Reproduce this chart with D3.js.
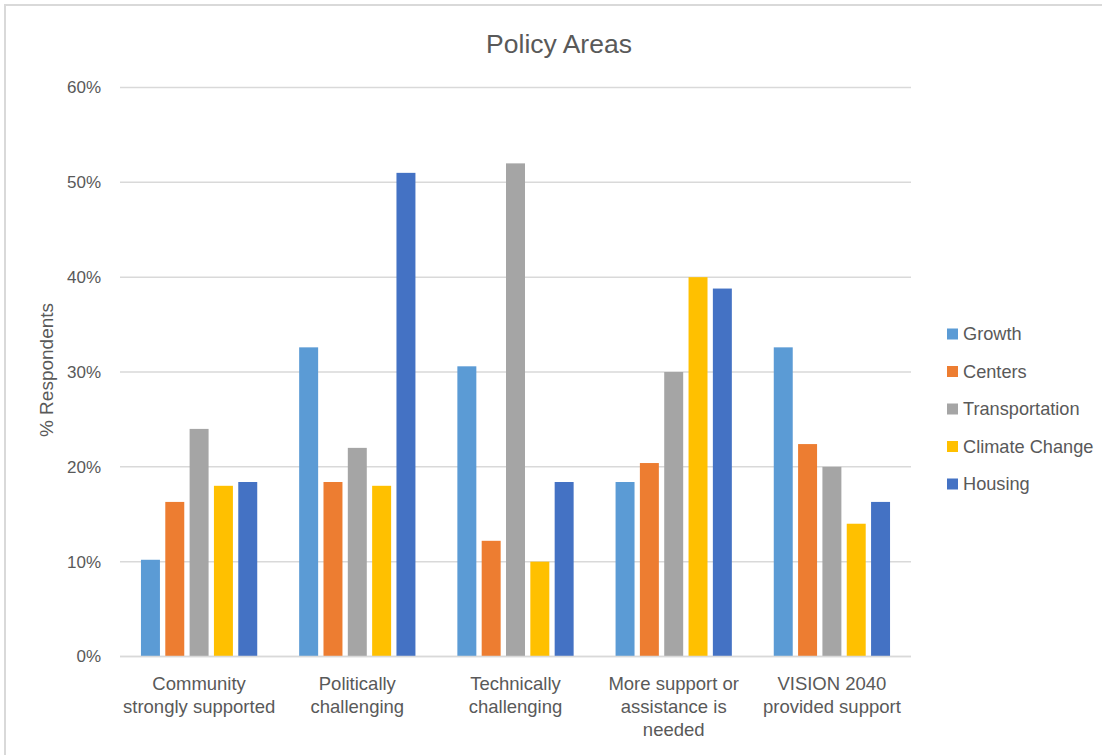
<!DOCTYPE html>
<html>
<head>
<meta charset="utf-8">
<title>Policy Areas</title>
<script src="https://cdn.jsdelivr.net/npm/d3@7"></script>
<style>
  html, body { margin: 0; padding: 0; background: #ffffff; }
  svg { display: block; }
  text { font-family: "Liberation Sans", Arial, sans-serif; fill: #595959; }
</style>
</head>
<body>
<svg id="chart" width="1102" height="755"></svg>
<script>
// Survey responses by policy area (% of respondents)
const categories = [
  "Community strongly supported",
  "Politically challenging",
  "Technically challenging",
  "More support or assistance is needed",
  "VISION 2040 provided support"
];
const seriesNames = ["Growth", "Centers", "Transportation", "Climate Change", "Housing"];
const growth         = [10.2, 32.6, 30.6, 18.4, 32.6];
const centers        = [16.3, 18.4, 12.2, 20.4, 22.4];
const transportation = [24.0, 22.0, 52.0, 30.0, 20.0];
const climateChange  = [18.0, 18.0, 10.0, 40.0, 14.0];
const housing        = [18.4, 51.0, 18.4, 38.8, 16.3];
const yTicks = [0, 10, 20, 30, 40, 50, 60];

const seriesValues = [growth, centers, transportation, climateChange, housing];
const colors = ["#5B9BD5", "#ED7D31", "#A5A5A5", "#FFC000", "#4472C4"];

const svg = d3.select("#chart");

// Outer chart frame
svg.append("rect")
  .attr("x", 5).attr("y", 5)
  .attr("width", 1110).attr("height", 770)
  .attr("fill", "#ffffff")
  .attr("stroke", "#d9d9d9")
  .attr("stroke-width", 2);

const plot = { left: 120, right: 911, top: 87.5, bottom: 656.5 };

const x0 = d3.scaleBand()
  .domain(categories)
  .range([plot.left, plot.right])
  .paddingInner(0).paddingOuter(0);

const groupWidth = x0.bandwidth() * 0.735;
const groupOffset = (x0.bandwidth() - groupWidth) / 2;

const x1 = d3.scaleBand()
  .domain(seriesNames)
  .range([0, groupWidth])
  .paddingInner(0.22).paddingOuter(0);

const y = d3.scaleLinear()
  .domain([0, 60])
  .range([plot.bottom, plot.top]);

// Horizontal gridlines
svg.append("g")
  .selectAll("line")
  .data(yTicks)
  .join("line")
  .attr("x1", plot.left).attr("x2", plot.right)
  .attr("y1", d => y(d)).attr("y2", d => y(d))
  .attr("stroke", "#d9d9d9")
  .attr("stroke-width", 1.5);

// Y axis tick labels
const yAxis = d3.axisLeft(y)
  .tickValues(yTicks)
  .tickFormat(d => d + "%")
  .tickSize(0)
  .tickPadding(19);
const yAxisG = svg.append("g")
  .attr("transform", `translate(${plot.left},0)`)
  .call(yAxis);
yAxisG.select(".domain").remove();
yAxisG.selectAll("text")
  .style("font-family", '"Liberation Sans", Arial, sans-serif')
  .style("font-size", "17px")
  .attr("fill", "#595959");

// Bars
const rows = [];
categories.forEach((c, ci) => {
  seriesNames.forEach((s, si) => {
    rows.push({ category: c, series: s, value: seriesValues[si][ci], color: colors[si] });
  });
});

svg.append("g")
  .selectAll("rect")
  .data(rows)
  .join("rect")
  .attr("x", d => x0(d.category) + groupOffset + x1(d.series))
  .attr("width", x1.bandwidth())
  .attr("y", d => y(d.value))
  .attr("height", d => y(0) - y(d.value))
  .attr("fill", d => d.color);

// Baseline
svg.append("line")
  .attr("x1", plot.left).attr("x2", plot.right)
  .attr("y1", y(0)).attr("y2", y(0))
  .attr("stroke", "#d9d9d9")
  .attr("stroke-width", 1.5);

// Category labels, wrapped to the category band width
const xAxis = d3.axisBottom(x0).tickSize(0).tickPadding(0);
const xAxisG = svg.append("g")
  .attr("transform", `translate(0,${plot.bottom})`)
  .call(xAxis);
xAxisG.select(".domain").remove();
xAxisG.selectAll("text").remove();

function wrapLabel(textSel, maxWidth) {
  textSel.each(function (label) {
    const text = d3.select(this);
    const words = label.split(" ");
    const lines = [];
    let line = [];
    const probe = text.append("tspan");
    words.forEach(w => {
      const trial = line.concat([w]).join(" ");
      probe.text(trial);
      if (probe.node().getComputedTextLength() > maxWidth && line.length) {
        lines.push(line.join(" "));
        line = [w];
      } else {
        line.push(w);
      }
    });
    lines.push(line.join(" "));
    probe.remove();
    lines.forEach((l, i) => {
      text.append("tspan")
        .attr("x", 0)
        .attr("y", 33 + i * 23.2)
        .text(l);
    });
  });
}

xAxisG.selectAll(".tick")
  .append("text")
  .datum(d => d)
  .attr("text-anchor", "middle")
  .style("font-family", '"Liberation Sans", Arial, sans-serif')
  .style("font-size", "18.5px")
  .attr("fill", "#595959")
  .call(wrapLabel, x0.bandwidth() - 2);

// Chart title
svg.append("text")
  .attr("x", 559).attr("y", 53)
  .attr("text-anchor", "middle")
  .style("font-size", "26.5px")
  .text("Policy Areas");

// Y axis title
svg.append("text")
  .attr("transform", "translate(53,370) rotate(-90)")
  .attr("text-anchor", "middle")
  .style("font-size", "19px")
  .text("% Respondents");

// Legend
const legend = svg.append("g")
  .selectAll("g")
  .data(seriesNames)
  .join("g")
  .attr("transform", (d, i) => `translate(947,${334 + i * 37.5})`);

legend.append("rect")
  .attr("x", 0).attr("y", -5.5)
  .attr("width", 11).attr("height", 11)
  .attr("fill", (d, i) => colors[i]);

legend.append("text")
  .attr("x", 16).attr("y", 0)
  .attr("dy", "0.35em")
  .style("font-size", "18.2px")
  .text(d => d);
</script>
</body>
</html>
